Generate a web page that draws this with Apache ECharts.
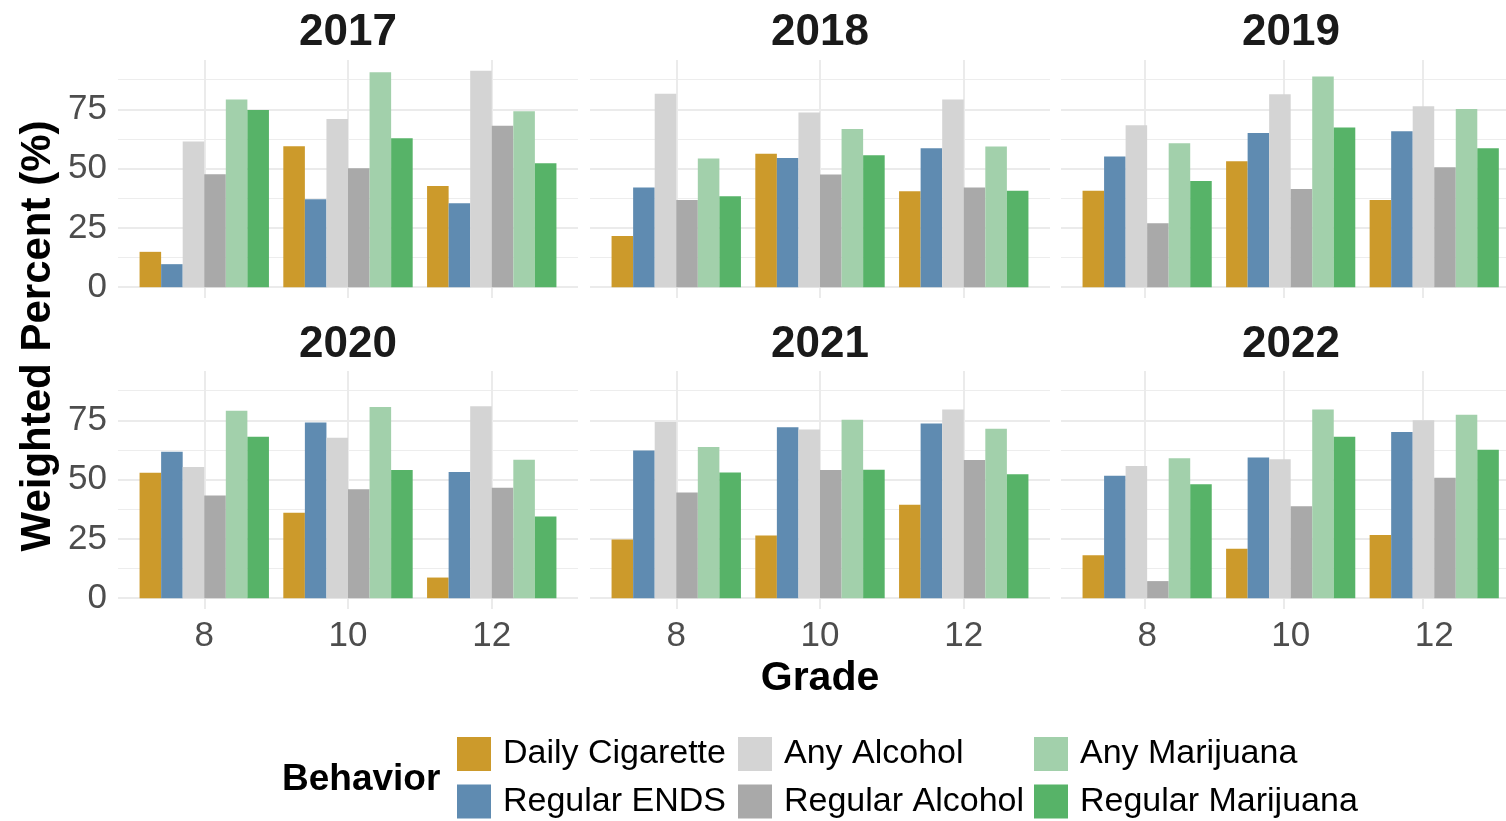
<!DOCTYPE html>
<html>
<head>
<meta charset="utf-8">
<script src="https://cdn.jsdelivr.net/npm/echarts@6/dist/echarts.min.js"></script>
<style>
html, body { margin: 0; padding: 0; background: #fff; }
#main { width: 1506px; height: 821px; }
</style>
</head>
<body>
<div id="main"></div>
<script>
var years = ['2017', '2018', '2019', '2020', '2021', '2022'];
var grades = ['8', '10', '12'];
var behaviors = ['Daily Cigarette', 'Regular ENDS', 'Any Alcohol', 'Regular Alcohol', 'Any Marijuana', 'Regular Marijuana'];
var colors = ['#CC9A2B', '#5F8BB1', '#D4D4D4', '#A9A9A9', '#A2D0AB', '#57B368'];
var yTicks = [0, 25, 50, 75];
var yMinorTicks = [12.5, 37.5, 62.5, 87.5];

// one row per year, values for grade 8, 10, 12
var dailyCigarette = [[14.9, 59.4, 42.7], [21.6, 56.2, 40.4], [40.6, 53.1, 36.8], [52.9, 36.0, 8.7], [24.7, 26.4, 39.4], [18.1, 20.8, 26.6]];
var regularEnds = [[9.7, 37.1, 35.4], [42.0, 54.4, 58.6], [55.1, 65.0, 65.7], [61.7, 74.1, 53.2], [62.3, 72.1, 73.6], [51.6, 59.3, 70.0]];
var anyAlcohol = [[61.4, 70.9, 91.2], [81.5, 73.6, 79.1], [68.3, 81.3, 76.3], [55.3, 67.6, 80.9], [74.3, 71.1, 79.5], [55.7, 58.6, 75.0]];
var regularAlcohol = [[47.6, 50.1, 68.0], [36.7, 47.5, 42.0], [27.0, 41.4, 50.6], [43.3, 45.9, 46.6], [44.5, 54.0, 58.2], [7.2, 38.8, 50.8]];
var anyMarijuana = [[79.1, 90.6, 74.2], [54.2, 66.7, 59.3], [60.7, 88.8, 75.1], [79.0, 80.6, 58.3], [63.7, 75.2, 71.4], [59.0, 79.5, 77.3]];
var regularMarijuana = [[74.7, 62.8, 52.2], [38.3, 55.6, 40.6], [44.8, 67.3, 58.6], [68.0, 54.0, 34.4], [53.0, 54.1, 52.2], [48.0, 68.0, 62.6]];
var seriesValues = [dailyCigarette, regularEnds, anyAlcohol, regularAlcohol, anyMarijuana, regularMarijuana];

var FONT = 'Liberation Sans, Arial, sans-serif';
var panelLeft = [118, 590, 1061];
var panelTop = [60, 371];
var panelW = 460, panelH = 238;
var unit = panelW / 3.2;          // ggplot discrete axis: 3 levels + 0.6 expansion each side
var yMin = -4.56, yMax = 95.76;  // 5% expansion of 0..91.2

var grid = [], xAxis = [], yAxis = [], series = [], graphic = [];

years.forEach(function (year, p) {
    var col = p % 3, row = Math.floor(p / 3);
    var left = panelLeft[col], top = panelTop[row];

    // background panel: grid lines
    var bg = grid.length;
    grid.push({ left: left, top: top, width: panelW, height: panelH, containLabel: false });
    xAxis.push({
        gridIndex: bg, type: 'value', min: 0.4, max: 3.6,
        axisLine: { show: false },
        axisTick: { show: false, customValues: [1, 2, 3] },
        axisLabel: { show: false },
        splitLine: { show: true, lineStyle: { color: '#EBEBEB', width: 2 } }
    });
    yAxis.push({
        gridIndex: bg, type: 'value', min: yMin, max: yMax,
        axisLine: { show: false },
        axisTick: { show: false, customValues: yTicks },
        axisLabel: {
            show: col === 0, customValues: yTicks, margin: 11,
            fontSize: 35, color: '#4D4D4D', fontFamily: FONT
        },
        splitLine: { show: true, lineStyle: { color: '#EBEBEB', width: 2 } }
    });
    yAxis.push({
        gridIndex: bg, type: 'value', min: yMin, max: yMax, position: 'left',
        axisLine: { show: false },
        axisTick: { show: false, customValues: yMinorTicks },
        axisLabel: { show: false },
        splitLine: { show: true, lineStyle: { color: '#EDEDED', width: 1 } }
    });

    // data panel: bars on grade categories
    var dg = grid.length;
    grid.push({ left: left + 0.1 * unit, top: top, width: 3 * unit, height: panelH, containLabel: false });
    var xi = xAxis.length;
    xAxis.push({
        gridIndex: dg, type: 'category', data: grades,
        axisLine: { show: false },
        axisTick: { show: false },
        axisLabel: { show: row === 1, margin: 10, fontSize: 35, color: '#4D4D4D', fontFamily: FONT },
        splitLine: { show: false }
    });
    var yi = yAxis.length;
    yAxis.push({
        gridIndex: dg, type: 'value', min: yMin, max: yMax,
        axisLine: { show: false }, axisTick: { show: false },
        axisLabel: { show: false }, splitLine: { show: false }
    });

    behaviors.forEach(function (name, b) {
        series.push({
            type: 'bar', name: name,
            xAxisIndex: xi, yAxisIndex: yi,
            data: seriesValues[b][p],
            barGap: '0%', barCategoryGap: '10%',
            itemStyle: { color: colors[b] },
            emphasis: { disabled: true },
            animation: false
        });
    });

    // facet strip title
    graphic.push({
        type: 'text', x: left + panelW / 2, y: row === 0 ? 33 : 345,
        style: {
            text: year, align: 'center', verticalAlign: 'middle',
            fontSize: 44, fontWeight: 'bold', fontFamily: FONT, fill: '#1A1A1A'
        }
    });
});

graphic.push({
    type: 'text', x: 38, y: 336, rotation: Math.PI / 2,
    style: {
        text: 'Weighted Percent (%)', align: 'center', verticalAlign: 'middle',
        fontSize: 42, fontWeight: 'bold', fontFamily: FONT, fill: '#000'
    }
});
graphic.push({
    type: 'text', x: 820, y: 679,
    style: {
        text: 'Grade', align: 'center', verticalAlign: 'middle',
        fontSize: 41, fontWeight: 'bold', fontFamily: FONT, fill: '#000'
    }
});
graphic.push({
    type: 'text', x: 282, y: 780,
    style: {
        text: 'Behavior', align: 'left', verticalAlign: 'middle',
        fontSize: 37, fontWeight: 'bold', fontFamily: FONT, fill: '#000'
    }
});

function legendColumn(names, left) {
    return {
        data: names, left: left, top: 737, orient: 'vertical', padding: 0,
        itemWidth: 34, itemHeight: 34, itemGap: 13.5, icon: 'rect',
        selectedMode: false,
        textStyle: { fontSize: 34, color: '#000', fontFamily: FONT, padding: [4, 0, 0, 7] }
    };
}

var chart = echarts.init(document.getElementById('main'));
chart.setOption({
    backgroundColor: '#fff',
    animation: false,
    textStyle: { fontFamily: FONT },
    grid: grid,
    xAxis: xAxis,
    yAxis: yAxis,
    legend: [
        legendColumn(behaviors.slice(0, 2), 457),
        legendColumn(behaviors.slice(2, 4), 738),
        legendColumn(behaviors.slice(4, 6), 1034)
    ],
    graphic: graphic,
    series: series
});
</script>
</body>
</html>
